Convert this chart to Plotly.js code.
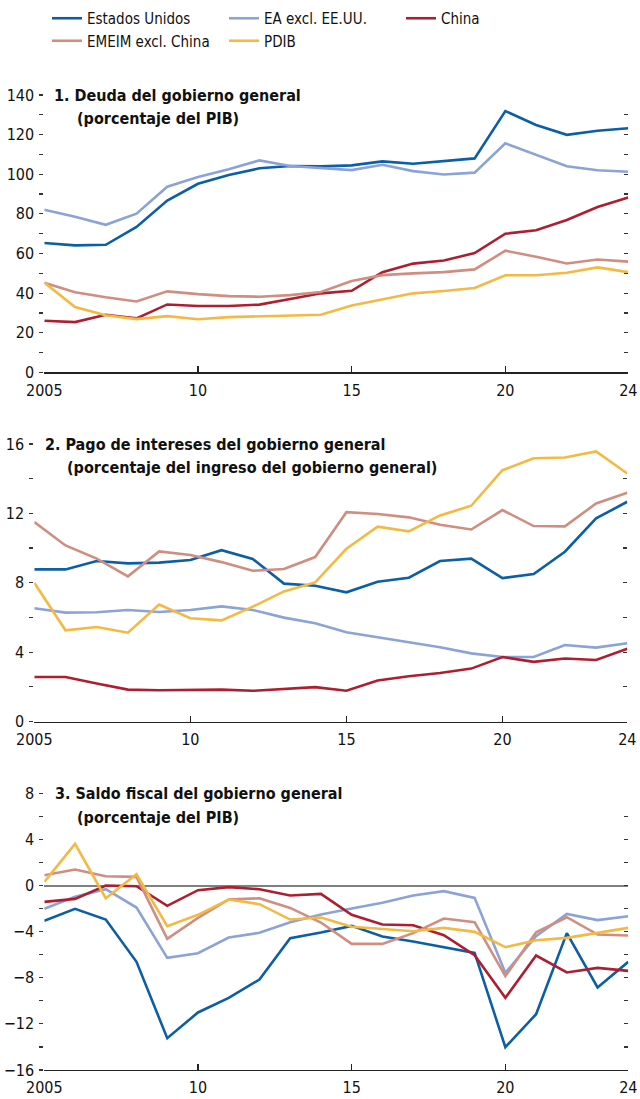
<!DOCTYPE html>
<html>
<head>
<meta charset="utf-8">
<script src="https://cdn.plot.ly/plotly-3.0.1.min.js"></script>
<style>
html,body{margin:0;padding:0;background:#fff;}
#chart{width:640px;height:1099px;}
</style>
</head>
<body>
<div id="chart"></div>
<script>
// ---------- Data ----------
var years = [2005,2006,2007,2008,2009,2010,2011,2012,2013,2014,2015,2016,2017,2018,2019,2020,2021,2022,2023,2024];
var seriesNames = ["Estados Unidos","EA excl. EE.UU.","China","EMEIM excl. China","PDIB"];

// 1. Deuda del gobierno general (porcentaje del PIB)
var debtUS  = [65.3,64.1,64.4,73.4,86.7,95.2,99.6,103.0,104.2,104.0,104.5,106.5,105.3,106.7,108.0,131.9,124.9,119.9,122.0,123.2];
var debtEA  = [82.1,78.6,74.5,80.1,93.7,98.6,102.5,107.0,104.2,103.3,102.1,104.8,101.6,99.9,100.8,115.6,109.7,104.0,102.0,101.3];
var debtCN  = [26.1,25.4,29.1,27.3,34.3,33.5,33.5,34.2,37.0,39.9,41.2,50.6,54.9,56.5,60.2,70.0,71.7,76.9,83.5,88.3];
var debtEM  = [45.3,40.4,37.9,35.8,40.9,39.5,38.5,38.2,39.0,40.6,46.1,49.1,50.0,50.6,52.0,61.4,58.4,55.0,57.0,55.9];
var debtLIC = [45.3,33.0,28.8,26.9,28.4,26.8,27.9,28.3,28.9,29.1,33.8,37.0,39.9,41.1,42.6,49.0,49.0,50.3,53.0,50.6];

// 2. Pago de intereses (porcentaje del ingreso del gobierno general)
var intUS  = [8.77,8.77,9.25,9.12,9.16,9.31,9.88,9.37,7.95,7.83,7.45,8.06,8.29,9.25,9.39,8.27,8.50,9.79,11.71,12.67];
var intEA  = [6.53,6.28,6.30,6.43,6.31,6.43,6.64,6.43,5.99,5.66,5.14,4.86,4.57,4.28,3.93,3.72,3.72,4.41,4.26,4.51];
var intCN  = [2.57,2.57,2.19,1.84,1.80,1.84,1.84,1.77,1.86,1.98,1.77,2.36,2.61,2.80,3.05,3.72,3.44,3.63,3.55,4.20];
var intEM  = [11.50,10.15,9.39,8.37,9.81,9.60,9.19,8.69,8.79,9.48,12.07,11.96,11.77,11.34,11.07,12.19,11.27,11.25,12.57,13.19];
var intLIC = [8.00,5.26,5.45,5.12,6.74,5.95,5.83,6.62,7.50,8.02,9.96,11.23,10.96,11.88,12.44,14.49,15.18,15.22,15.57,14.30];

// 3. Saldo fiscal (porcentaje del PIB)
var balUS  = [-3.06,-2.02,-2.95,-6.62,-13.24,-11.01,-9.74,-8.15,-4.57,-4.08,-3.50,-4.42,-4.86,-5.38,-5.84,-14.02,-11.16,-4.13,-8.84,-6.62];
var balEA  = [-2.02,-0.98,-0.32,-1.91,-6.27,-5.87,-4.51,-4.10,-3.18,-2.51,-1.99,-1.50,-0.87,-0.49,-1.07,-7.57,-4.39,-2.46,-3.00,-2.66];
var balCN  = [-1.42,-1.16,0.00,-0.06,-1.76,-0.40,-0.14,-0.32,-0.87,-0.72,-2.54,-3.38,-3.44,-4.31,-6.04,-9.74,-6.07,-7.54,-7.14,-7.40];
var balEM  = [0.90,1.39,0.81,0.75,-4.62,-2.80,-1.21,-1.10,-1.94,-3.21,-5.06,-5.06,-4.13,-2.86,-3.18,-7.86,-4.05,-2.75,-4.25,-4.34];
var balLIC = [0.32,3.61,-1.10,0.98,-3.53,-2.54,-1.21,-1.62,-2.95,-2.77,-3.58,-3.76,-3.96,-3.67,-4.02,-5.35,-4.74,-4.54,-4.08,-3.67];

var xTickVals = [2005,2010,2015,2020,2024];
var xTickText = ["2005","10","15","20","24"];

var panelTitles = [
  ["1. Deuda del gobierno general","(porcentaje del PIB)"],
  ["2. Pago de intereses del gobierno general","(porcentaje del ingreso del gobierno general)"],
  ["3. Saldo fiscal del gobierno general","(porcentaje del PIB)"]
];

// ---------- Styling ----------
var colors = ["#0B5FA5","#8BA3D6","#AD1F30","#CF8E80","#F4B942"];
var FONT = "'DejaVu Sans Condensed','Liberation Sans Narrow','Arial Narrow',sans-serif";
var W = 640, H = 1099;
function px(x){return x/W;}
function py(y){return 1-y/H;}

var panels = [
  {data:[debtUS,debtEA,debtCN,debtEM,debtLIC], xa:'x', ya:'y'},
  {data:[intUS,intEA,intCN,intEM,intLIC], xa:'x2', ya:'y2'},
  {data:[balUS,balEA,balCN,balEM,balLIC], xa:'x3', ya:'y3'}
];

var traces = [];
panels.forEach(function(p, pi){
  p.data.forEach(function(vals, si){
    traces.push({
      x: years, y: vals, type:'scatter', mode:'lines',
      name: seriesNames[si], legendgroup: seriesNames[si],
      showlegend: pi===0,
      line:{color:colors[si], width:2.6},
      xaxis:p.xa, yaxis:p.ya, hoverinfo:'skip'
    });
  });
});
// dummy traces for right-side tick axes
[['x','y4'],['x2','y5'],['x3','y6']].forEach(function(a){
  traces.push({x:[], y:[], type:'scatter', mode:'lines', showlegend:false, xaxis:a[0], yaxis:a[1], hoverinfo:'skip'});
});

function xAxis(dom, anchor){
  return {
    domain: dom, anchor: anchor, range:[2005,2024],
    tickvals: xTickVals, ticktext: xTickText,
    ticks:'inside', ticklen:6, tickwidth:1.2, tickcolor:'#222',
    showline:true, linecolor:'#222', linewidth:1.2,
    showgrid:false, zeroline:false,
    tickfont:{family:FONT, size:16, color:'#111'}, ticklabelstandoff:3
  };
}
function yAxis(dom, anchor, range, dtick, mdtick, zl){
  return {
    domain: dom, anchor: anchor, range: range, dtick: dtick, tick0:0,
    ticks:'outside', ticklen:4, tickwidth:1.2, tickcolor:'#333',
    minor:{dtick:mdtick, tick0:0, ticks:'outside', ticklen:4, tickwidth:1.2, tickcolor:'#333', showgrid:false},
    showline:false, showgrid:false,
    zeroline: !!zl, zerolinecolor:'#808080', zerolinewidth:2,
    tickfont:{family:FONT, size:16, color:'#111'}, ticklabelstandoff:2
  };
}
function yRight(anchor, overlay, range, mdtick){
  return {
    overlaying: overlay, anchor: anchor, side:'right', range: range, dtick: mdtick, tick0:0,
    ticks:'inside', ticklen:4, tickwidth:1.2, tickcolor:'#333',
    showticklabels:false, showline:false, showgrid:false, zeroline:false
  };
}

var d1 = [py(372.4), py(95)];
var d2 = [py(721.5), py(444)];
var d3 = [py(1070), py(793.3)];

var annotations = [];
var titlePos = [
  [[52,95],[75,119]],
  [[43,444],[65,467]],
  [[53,793],[75,817]]
];
panelTitles.forEach(function(t, i){
  t.forEach(function(line, j){
    annotations.push({
      xref:'paper', yref:'paper', x:px(titlePos[i][j][0]), y:py(titlePos[i][j][1]),
      xanchor:'left', yanchor:'middle', showarrow:false, text:'<b>'+line+'</b>',
      font:{family:FONT, size:16, color:'#111'}
    });
  });
});

var layout = {
  width: W, height: H,
  margin:{l:0, r:0, t:0, b:0},
  paper_bgcolor:'#fff', plot_bgcolor:'#fff',
  showlegend:true,
  legend:{orientation:'h', x:px(47), y:py(2), xanchor:'left', yanchor:'top',
          entrywidth:132, entrywidthmode:'pixels', traceorder:'normal',
          font:{family:FONT, size:15, color:'#111'}, bgcolor:'rgba(0,0,0,0)', itemwidth:30},
  xaxis: xAxis([px(44.3), px(628.3)], 'y'),
  xaxis2: xAxis([px(34.3), px(627.3)], 'y2'),
  xaxis3: xAxis([px(44.3), px(628.3)], 'y3'),
  yaxis: yAxis(d1, 'x', [0,140], 20, 10, false),
  yaxis2: yAxis(d2, 'x2', [0,16], 4, 2, false),
  yaxis3: yAxis(d3, 'x3', [-16,8], 4, 2, true),
  yaxis4: yRight('x', 'y', [0,140], 10),
  yaxis5: yRight('x2', 'y2', [0,16], 2),
  yaxis6: yRight('x3', 'y3', [-16,8], 2),
  annotations: annotations
};

Plotly.newPlot('chart', traces, layout, {staticPlot:true, displayModeBar:false});
</script>
</body>
</html>
